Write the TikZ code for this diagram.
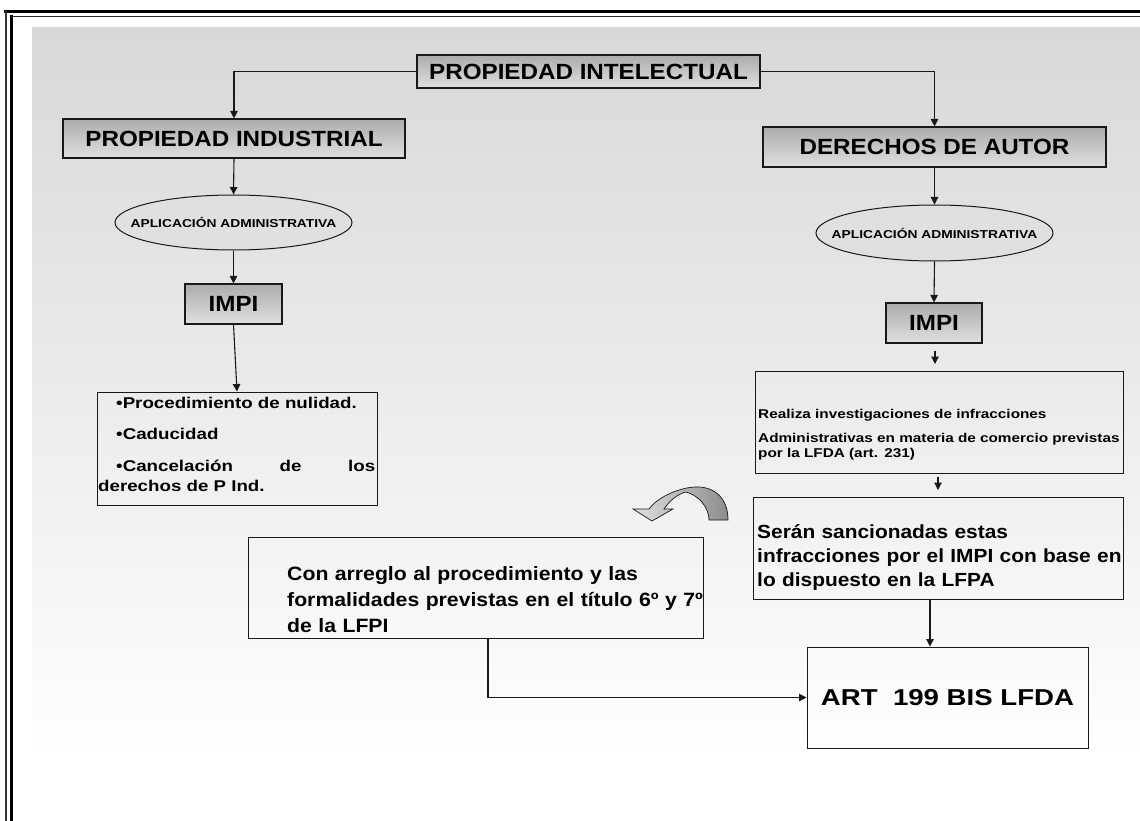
\documentclass[tikz,border=0pt]{standalone}
\usepackage{fontspec}
\setmainfont{Liberation Sans}
\newfontfamily\fa[FakeStretch=1.1]{Liberation Sans}
\newfontfamily\fb[FakeStretch=1.2]{Liberation Sans}
\usetikzlibrary{arrows.meta,shapes.geometric,calc}
\definecolor{bgtop}{RGB}{216,216,216}
\definecolor{bgbot}{RGB}{254,254,254}
\definecolor{btop}{RGB}{172,172,172}
\definecolor{bbot}{RGB}{224,224,224}
\definecolor{ellfill}{RGB}{224,224,224}
\definecolor{linec}{RGB}{25,25,25}
\tikzset{
  titlebox/.style={draw=linec, line width=1.1pt, top color=btop, bottom color=bbot, inner sep=0pt,
    font=\fa\bfseries\fontsize{22}{26}\selectfont},
  oval/.style={ellipse, draw=linec, line width=1pt, fill=ellfill, inner sep=0pt,
    font=\fb\bfseries\fontsize{11.5}{13}\selectfont},
  plainbox/.style={draw=linec, line width=1pt, inner sep=0pt},
  txt/.style={anchor=north west, inner sep=0pt, align=left},
  arr/.style={draw=linec, line width=1.1pt, -{Triangle[length=7.5pt,width=7.5pt]}},
  frameline/.style={draw=black, line cap=rect}
}
\begin{document}
\begin{tikzpicture}[x=1pt,y=-1pt]
\useasboundingbox (0,0) rectangle (1140,821);
% background
\shade[top color=bgtop, bottom color=bgbot] (32,28) rectangle (1140,745);
% frame
\draw[frameline, line width=2.6pt] (5,11.5) -- (1140,11.5);
\draw[frameline, line width=1.8pt, black!80] (6,11.5) -- (6,821);
\draw[frameline, line width=1.8pt, black!85] (11.5,16.5) -- (1140,16.5);
\draw[frameline, line width=2.6pt] (11.5,16.5) -- (11.5,821);

% left branch
\node[titlebox, minimum width=343pt, minimum height=33pt] (intel) at (588.5,71.5) {PROPIEDAD INTELECTUAL};
\node[titlebox, minimum width=342pt, minimum height=39pt] (indus) at (234,138.5) {PROPIEDAD INDUSTRIAL};
\node[oval, minimum width=237pt, minimum height=55pt] (ell1) at (233.5,222.5) {\makebox[0pt]{APLICACIÓN ADMINISTRATIVA}};
\node[titlebox, minimum width=97pt, minimum height=40pt] (impi1) at (233.5,304) {IMPI};
\node[plainbox, minimum width=280pt, minimum height=113pt] (list) at (237,448.5) {};
\node[txt, text width=277pt, align=justify, font=\fb\bfseries\fontsize{15.6}{20}\selectfont] (listtxt) at (98,396.5)
 {\hspace*{18pt}•Procedimiento de nulidad.\par\vspace{11.5pt}
  \hspace*{18pt}•Caducidad\par\vspace{11.5pt}
  \hspace*{18pt}•Cancelación de los\linebreak derechos de P Ind.\par};

% right branch
\node[titlebox, minimum width=343pt, minimum height=40pt] (dere) at (934.5,147) {DERECHOS DE AUTOR};
\node[oval, minimum width=237pt, minimum height=56pt] (ell2) at (934.5,233) {\makebox[0pt]{APLICACIÓN ADMINISTRATIVA}};
\node[titlebox, minimum width=96pt, minimum height=40pt] (impi2) at (934,323) {IMPI};
\node[plainbox, minimum width=368pt, minimum height=102pt] (real) at (939,422) {};
\node[txt, text width=366pt, font=\fb\bfseries\fontsize{12.75}{15}\selectfont] (realtxt) at (758,409)
 {Realiza investigaciones de infracciones\\[9pt]
  Administrativas en materia de comercio previstas\\
  por la LFDA (art. 231)};
\node[plainbox, minimum width=370pt, minimum height=102pt] (seran) at (938,548) {};
\node[txt, text width=366pt, font=\fa\bfseries\fontsize{19}{24}\selectfont] (sertxt) at (757,524)
 {Serán sancionadas estas\\
  infracciones por el IMPI con base en\\
  lo dispuesto en la LFPA};
\node[plainbox, minimum width=455pt, minimum height=101pt] (con) at (475.5,587.5) {};
\node[txt, text width=420pt, font=\fa\bfseries\fontsize{19.3}{26}\selectfont] (contxt) at (287,566)
 {Con arreglo al procedimiento y las\\
  formalidades previstas en el título 6º y 7º\\
  de la LFPI};
\node[plainbox, minimum width=281pt, minimum height=101pt, font=\fb\bfseries\fontsize{23}{26}\selectfont] (art) at (947.5,697.5) {ART\ \ 199 BIS LFDA};

% curved block arrow
\shade[left color=black!12, right color=black!45, draw=linec, line width=0.7pt]
  (728,520) .. controls (728,496) and (712,486) .. (695,487)
  .. controls (676,488) and (656,499) .. (649,509)
  -- (633,509) -- (652,521) -- (673,509) -- (664,509)
  .. controls (670,500) and (678,494) .. (686,492)
  .. controls (698,495) and (709,507) .. (709,520) -- cycle;

% connectors
\coordinate (s1) at (935,351);
\coordinate (e1) at (935,364);
\coordinate (s2) at (938,477);
\coordinate (e2) at (938,490);
\coordinate (cx) at (930,0);
\coordinate (cy) at (488,0);
\draw[arr] (intel.west) -| (indus.north);
\draw[arr] (intel.east) -| (dere.north);
\draw[arr] (indus.south) -- (ell1.north);
\draw[arr] (ell1.south) -- (impi1.north);
\draw[arr] (impi1.south) -- (list.north);
\draw[arr] (dere.south) -- (ell2.north);
\draw[arr] (ell2.south) -- (impi2.north);
\draw[arr] (s1) -- (e1);
\draw[arr] (s2) -- (e2);
\draw[arr] (seran.south -| cx) -- (art.north -| cx);
\draw[arr] (con.south -| cy) |- (art.west);
\end{tikzpicture}
\end{document}
